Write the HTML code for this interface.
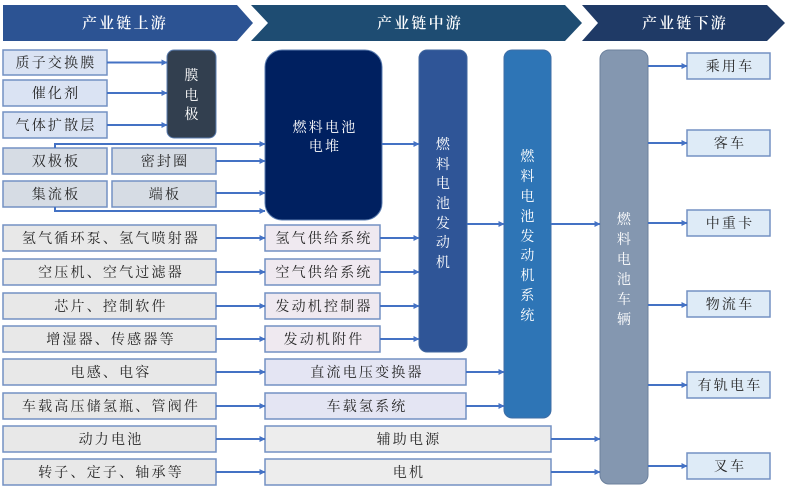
<!DOCTYPE html>
<html><head><meta charset="utf-8"><style>
html,body{margin:0;padding:0;background:#fff;}
svg{display:block;}
text{font-family:"Liberation Serif","Noto Serif CJK SC",serif;font-size:14px;fill:#262626;letter-spacing:2.2px;}
.w{fill:#fff;}
.h{fill:#fff;font-size:15px;font-weight:600;}
.l{stroke:#4472C4;stroke-width:2;fill:none;}
.b{stroke:#7391C3;stroke-width:1.5;}
</style></head><body>
<svg width="790" height="489" viewBox="0 0 790 489" xmlns="http://www.w3.org/2000/svg">
<defs>
<marker id="a" markerWidth="6" markerHeight="6" refX="5.5" refY="3" orient="auto" markerUnits="userSpaceOnUse">
<path d="M0,0 L6,3 L0,6 Z" fill="#4472C4"/>
</marker>
</defs>
<!-- headers -->
<polygon points="3,5 237,5 253,23 237,41 3,41" fill="#2C5393"/>
<polygon points="251,5 565,5 582,23 565,41 251,41 268,23" fill="#1E4C72"/>
<polygon points="582,5 767,5 785,23 767,41 582,41 598,23" fill="#1F3A66"/>
<text class="h" x="125" y="28" text-anchor="middle">产业链上游</text>
<text class="h" x="420" y="28" text-anchor="middle">产业链中游</text>
<text class="h" x="685" y="28" text-anchor="middle">产业链下游</text>

<!-- top-left boxes -->
<rect class="b" x="3" y="50" width="104" height="25" fill="#DAE3F3"/>
<rect class="b" x="3" y="80" width="104" height="26" fill="#DAE3F3"/>
<rect class="b" x="3" y="112" width="104" height="26" fill="#DAE3F3"/>
<text x="56" y="67.5" text-anchor="middle">质子交换膜</text>
<text x="56" y="98" text-anchor="middle">催化剂</text>
<text x="56" y="130" text-anchor="middle">气体扩散层</text>

<rect x="167" y="50" width="49" height="88" rx="7" fill="#323F4F" stroke="#5B7DB0" stroke-width="1"/>
<text class="w" x="192.5" y="80" text-anchor="middle">膜</text>
<text class="w" x="192.5" y="100" text-anchor="middle">电</text>
<text class="w" x="192.5" y="119" text-anchor="middle">极</text>

<rect class="b" x="3" y="148" width="104" height="26" fill="#D6DCE4"/>
<rect class="b" x="112" y="148" width="104" height="26" fill="#D6DCE4"/>
<rect class="b" x="3" y="181" width="104" height="26" fill="#D6DCE4"/>
<rect class="b" x="112" y="181" width="104" height="26" fill="#D6DCE4"/>
<text x="56" y="166" text-anchor="middle">双极板</text>
<text x="165" y="166" text-anchor="middle">密封圈</text>
<text x="56" y="199" text-anchor="middle">集流板</text>
<text x="165" y="199" text-anchor="middle">端板</text>

<!-- stack -->
<rect x="265" y="50" width="117" height="170" rx="17" fill="#002060" stroke="#5B7DB0" stroke-width="1"/>
<text class="w" x="325" y="132" text-anchor="middle">燃料电池</text>
<text class="w" x="325" y="151" text-anchor="middle">电堆</text>

<!-- engine -->
<rect x="419" y="50" width="48" height="302" rx="8" fill="#2F5597" stroke="#41679F" stroke-width="1"/>
<g class="w">
<text class="w" x="444" y="149" text-anchor="middle">燃</text>
<text class="w" x="444" y="169" text-anchor="middle">料</text>
<text class="w" x="444" y="188" text-anchor="middle">电</text>
<text class="w" x="444" y="208" text-anchor="middle">池</text>
<text class="w" x="444" y="228" text-anchor="middle">发</text>
<text class="w" x="444" y="247" text-anchor="middle">动</text>
<text class="w" x="444" y="267" text-anchor="middle">机</text>
</g>

<!-- engine system -->
<rect x="504" y="50" width="47" height="368" rx="8" fill="#2E75B6" stroke="#3F6EA6" stroke-width="1"/>
<text class="w" x="528.5" y="161" text-anchor="middle">燃</text>
<text class="w" x="528.5" y="181" text-anchor="middle">料</text>
<text class="w" x="528.5" y="201" text-anchor="middle">电</text>
<text class="w" x="528.5" y="221" text-anchor="middle">池</text>
<text class="w" x="528.5" y="241" text-anchor="middle">发</text>
<text class="w" x="528.5" y="260" text-anchor="middle">动</text>
<text class="w" x="528.5" y="280" text-anchor="middle">机</text>
<text class="w" x="528.5" y="300" text-anchor="middle">系</text>
<text class="w" x="528.5" y="320" text-anchor="middle">统</text>

<!-- vehicle -->
<rect x="600" y="50" width="48" height="434" rx="9" fill="#8497B0" stroke="#6C819D" stroke-width="1"/>
<text class="w" x="625" y="224" text-anchor="middle">燃</text>
<text class="w" x="625" y="244" text-anchor="middle">料</text>
<text class="w" x="625" y="264" text-anchor="middle">电</text>
<text class="w" x="625" y="284" text-anchor="middle">池</text>
<text class="w" x="625" y="304" text-anchor="middle">车</text>
<text class="w" x="625" y="324" text-anchor="middle">辆</text>

<!-- outputs -->
<rect class="b" x="687" y="53" width="83" height="26" fill="#DEEBF7"/>
<rect class="b" x="687" y="130" width="83" height="26" fill="#DEEBF7"/>
<rect class="b" x="687" y="210" width="83" height="26" fill="#DEEBF7"/>
<rect class="b" x="687" y="291" width="83" height="26" fill="#DEEBF7"/>
<rect class="b" x="687" y="372" width="83" height="26" fill="#DEEBF7"/>
<rect class="b" x="687" y="453" width="83" height="26" fill="#DEEBF7"/>
<text x="730" y="71" text-anchor="middle">乘用车</text>
<text x="730" y="148" text-anchor="middle">客车</text>
<text x="730" y="228" text-anchor="middle">中重卡</text>
<text x="730" y="309" text-anchor="middle">物流车</text>
<text x="730" y="390" text-anchor="middle">有轨电车</text>
<text x="730" y="471" text-anchor="middle">叉车</text>

<!-- lower left boxes -->
<g>
<rect class="b" x="3" y="225" width="213" height="26" fill="#E8E8E8"/>
<rect class="b" x="3" y="259" width="213" height="26" fill="#E8E8E8"/>
<rect class="b" x="3" y="293" width="213" height="26" fill="#E8E8E8"/>
<rect class="b" x="3" y="326" width="213" height="26" fill="#E8E8E8"/>
<rect class="b" x="3" y="359" width="213" height="26" fill="#E8E8E8"/>
<rect class="b" x="3" y="393" width="213" height="26" fill="#E8E8E8"/>
<rect class="b" x="3" y="426" width="213" height="26" fill="#E8E8E8"/>
<rect class="b" x="3" y="459" width="213" height="26" fill="#E8E8E8"/>
</g>
<text x="111" y="243" text-anchor="middle">氢气循环泵、氢气喷射器</text>
<text x="111" y="277" text-anchor="middle">空压机、空气过滤器</text>
<text x="111" y="311" text-anchor="middle">芯片、控制软件</text>
<text x="111" y="344" text-anchor="middle">增湿器、传感器等</text>
<text x="111" y="377" text-anchor="middle">电感、电容</text>
<text x="111" y="411" text-anchor="middle">车载高压储氢瓶、管阀件</text>
<text x="111" y="444" text-anchor="middle">动力电池</text>
<text x="111" y="477" text-anchor="middle">转子、定子、轴承等</text>

<!-- middle boxes -->
<rect class="b" x="265" y="225" width="115" height="26" fill="#EFE9F0"/>
<rect class="b" x="265" y="259" width="115" height="26" fill="#EFE9F0"/>
<rect class="b" x="265" y="293" width="115" height="26" fill="#EFE9F0"/>
<rect class="b" x="265" y="326" width="115" height="26" fill="#EFE9F0"/>
<rect class="b" x="265" y="359" width="201" height="26" fill="#E4E5F3"/>
<rect class="b" x="265" y="393" width="201" height="26" fill="#E4E5F3"/>
<rect class="b" x="265" y="426" width="286" height="26" fill="#EDEDED"/>
<rect class="b" x="265" y="459" width="286" height="26" fill="#EDEDED"/>
<text x="324" y="243" text-anchor="middle">氢气供给系统</text>
<text x="324" y="277" text-anchor="middle">空气供给系统</text>
<text x="324" y="311" text-anchor="middle">发动机控制器</text>
<text x="324" y="344" text-anchor="middle">发动机附件</text>
<text x="367" y="377" text-anchor="middle">直流电压变换器</text>
<text x="367" y="411" text-anchor="middle">车载氢系统</text>
<text x="409" y="444" text-anchor="middle">辅助电源</text>
<text x="409" y="477" text-anchor="middle">电机</text>

<!-- connectors -->
<g class="l" marker-end="url(#a)">
<path d="M107,62.5 H167"/>
<path d="M107,93 H167"/>
<path d="M107,125 H167"/>
<path d="M55,148 V144 H265"/>
<path d="M216,161 H265"/>
<path d="M216,193 H265"/>
<path d="M55,207 V211 H265"/>
<path d="M382,144 H419"/>
<path d="M467,224 H504"/>
<path d="M551,224 H600"/>
<path d="M216,238 H265"/>
<path d="M216,272 H265"/>
<path d="M216,306 H265"/>
<path d="M216,339 H265"/>
<path d="M216,372 H265"/>
<path d="M216,406 H265"/>
<path d="M216,439 H265"/>
<path d="M216,472 H265"/>
<path d="M380,238 H419"/>
<path d="M380,272 H419"/>
<path d="M380,306 H419"/>
<path d="M380,339 H419"/>
<path d="M466,372 H504"/>
<path d="M466,406 H504"/>
<path d="M551,439 H600"/>
<path d="M551,472 H600"/>
<path d="M648,66 H687"/>
<path d="M648,143 H687"/>
<path d="M648,223 H687"/>
<path d="M648,305 H687"/>
<path d="M648,385 H687"/>
<path d="M648,466 H687"/>
</g>
</svg>
</body></html>
